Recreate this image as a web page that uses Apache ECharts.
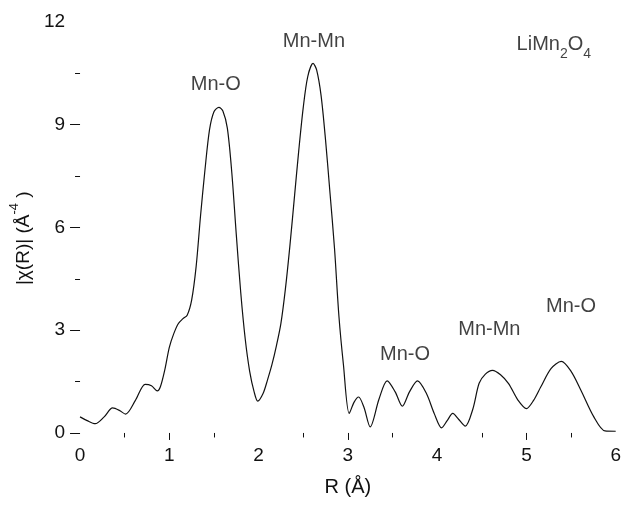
<!DOCTYPE html>
<html>
<head>
<meta charset="utf-8">
<title>LiMn2O4 EXAFS</title>
<script src="https://cdn.jsdelivr.net/npm/echarts@6/dist/echarts.min.js"></script>
<style>
  html, body { margin: 0; padding: 0; background: #fff; }
  #chart { width: 624px; height: 505px; }
</style>
</head>
<body>
<div id="chart"></div>
<script>
// Fourier-transformed EXAFS magnitude |χ(R)| of LiMn2O4
const rValues = [
  0.00, 0.08, 0.17, 0.27, 0.365, 0.44, 0.51, 0.62, 0.73, 0.80, 0.865,
  0.90, 0.95, 1.00, 1.05, 1.10, 1.15, 1.20, 1.25, 1.30, 1.35, 1.40,
  1.45, 1.50, 1.555, 1.60, 1.65, 1.70, 1.75, 1.80, 1.85, 1.90, 1.95,
  1.99, 2.05, 2.10, 2.15, 2.20, 2.25, 2.30, 2.35, 2.40, 2.45, 2.50,
  2.55, 2.61, 2.65, 2.70, 2.75, 2.80, 2.85, 2.90, 2.95, 3.015, 3.07,
  3.12, 3.18, 3.25, 3.35, 3.44, 3.53, 3.61, 3.69, 3.78, 3.88, 3.97,
  4.05, 4.11, 4.175, 4.24, 4.315, 4.40, 4.47, 4.54, 4.62, 4.71, 4.80,
  4.905, 5.00, 5.08, 5.16, 5.275, 5.39, 5.50, 5.61, 5.755, 5.88, 6.00
];
const chiValues = [
  0.47, 0.36, 0.27, 0.47, 0.73, 0.66, 0.55, 0.95, 1.42, 1.38, 1.23,
  1.35, 1.85, 2.50, 2.90, 3.19, 3.33, 3.44, 3.88, 4.85, 6.35, 7.70,
  8.85, 9.38, 9.51, 9.40, 8.90, 7.60, 5.80, 4.10, 2.75, 1.80, 1.20,
  0.93, 1.15, 1.55, 2.00, 2.55, 3.20, 4.20, 5.45, 6.85, 8.25, 9.50,
  10.40, 10.79, 10.60, 9.85, 8.55, 7.00, 5.40, 3.40, 2.00, 0.57, 0.90,
  1.05, 0.75, 0.18, 1.00, 1.52, 1.20, 0.78, 1.20, 1.52, 1.15, 0.55,
  0.15, 0.35, 0.57, 0.40, 0.20, 0.70, 1.45, 1.72, 1.83, 1.70, 1.44,
  0.96, 0.71, 0.95, 1.34, 1.88, 2.09, 1.80, 1.25, 0.47, 0.06, 0.05
];

// Axis ticks and labels
const xLabelValues = [0, 1, 2, 3, 4, 5, 6];
const xMajorTicks = [1, 3, 5];
const xMinorTicks = [0.5, 1.5, 2.5, 3.5, 4.5, 5.5];
const yLabelValues = [0, 3, 6, 9, 12];
const yMajorTicks = [0, 3, 6, 9];
const yMinorTicks = [1.5, 4.5, 7.5, 10.5];

// Shell assignments written over the peaks
const peakNames = ['Mn-O', 'Mn-Mn', 'Mn-O', 'Mn-Mn', 'Mn-O'];
const peakNameR = [1.52, 2.62, 3.64, 4.585, 5.50];
const peakNameY = [10.17, 11.44, 2.30, 3.01, 3.69];
const sampleName = '{a|LiMn}{b|2}{a|O}{b|4}';
const sampleR = 4.89;
const sampleY = 11.33;

const FONT = '"Liberation Sans", Arial, sans-serif';
const INK = '#111111';
const X_MIN = 0, X_MAX = 6, Y_MIN = -0.22, Y_MAX = 12;

const curve = rValues.map((r, i) => [r, chiValues[i]]);
const peakLabels = peakNames.map((t, i) => ({ value: [peakNameR[i], peakNameY[i]], name: t }));

const chart = echarts.init(document.getElementById('chart'), null, { renderer: 'canvas' });

const baseX = {
  type: 'value', position: 'bottom', min: X_MIN, max: X_MAX,
  axisLine: { show: false }, splitLine: { show: false }
};
const baseY = {
  type: 'value', position: 'left', min: Y_MIN, max: Y_MAX,
  axisLine: { show: false }, splitLine: { show: false }
};

chart.setOption({
  animation: false,
  backgroundColor: '#ffffff',
  grid: { left: 77, right: 5, top: 22, bottom: 64.5 },
  xAxis: [
    Object.assign({}, baseX, {
      name: 'R (Å)',
      nameLocation: 'middle',
      nameGap: 37,
      nameTextStyle: { fontFamily: FONT, fontSize: 20, color: INK },
      axisTick: { show: true, length: 7, customValues: xMajorTicks, lineStyle: { color: INK, width: 1 } },
      axisLabel: { customValues: xLabelValues, margin: 6, fontFamily: FONT, fontSize: 19, color: INK }
    }),
    Object.assign({}, baseX, {
      axisTick: { show: true, length: 4.5, customValues: xMinorTicks, lineStyle: { color: INK, width: 1 } },
      axisLabel: { show: false }
    })
  ],
  yAxis: [
    Object.assign({}, baseY, {
      name: '{m||χ(R)| (Å}{s|-4}{m| )}',
      nameLocation: 'middle',
      nameGap: 43,
      nameRotate: 90,
      nameTextStyle: {
        fontFamily: FONT, fontSize: 19, color: INK,
        padding: [0, 14, 0, 0],
        rich: {
          m: { fontFamily: FONT, fontSize: 19, color: INK, lineHeight: 19, verticalAlign: 'top', padding: [6, 0, 0, 0] },
          s: { fontFamily: FONT, fontSize: 13, color: INK, lineHeight: 13, verticalAlign: 'top' }
        }
      },
      axisTick: { show: true, length: 10, customValues: yMajorTicks, lineStyle: { color: INK, width: 1 } },
      axisLabel: { customValues: yLabelValues, margin: 15, fontFamily: FONT, fontSize: 19, color: INK }
    }),
    Object.assign({}, baseY, {
      axisTick: { show: true, length: 5, customValues: yMinorTicks, lineStyle: { color: INK, width: 1 } },
      axisLabel: { show: false }
    })
  ],
  series: [
    {
      type: 'line',
      xAxisIndex: 0, yAxisIndex: 0,
      data: curve,
      smooth: 0.3,
      showSymbol: false,
      lineStyle: { color: INK, width: 1.2 },
      silent: true
    },
    {
      type: 'scatter',
      xAxisIndex: 0, yAxisIndex: 0,
      data: peakLabels,
      symbolSize: 0,
      silent: true,
      label: {
        show: true, position: 'inside', formatter: '{b}',
        fontFamily: FONT, fontSize: 20, color: INK
      }
    },
    {
      type: 'scatter',
      xAxisIndex: 0, yAxisIndex: 0,
      data: [{ value: [sampleR, sampleY], name: 'LiMn2O4' }],
      symbolSize: 0,
      silent: true,
      label: {
        show: true, position: 'right', distance: 0, formatter: sampleName,
        rich: {
          a: { fontFamily: FONT, fontSize: 20, color: INK, lineHeight: 20, verticalAlign: 'top' },
          b: { fontFamily: FONT, fontSize: 14, color: INK, lineHeight: 14, verticalAlign: 'top', padding: [12, 0, 0, 0] }
        }
      }
    }
  ]
});
</script>
</body>
</html>
